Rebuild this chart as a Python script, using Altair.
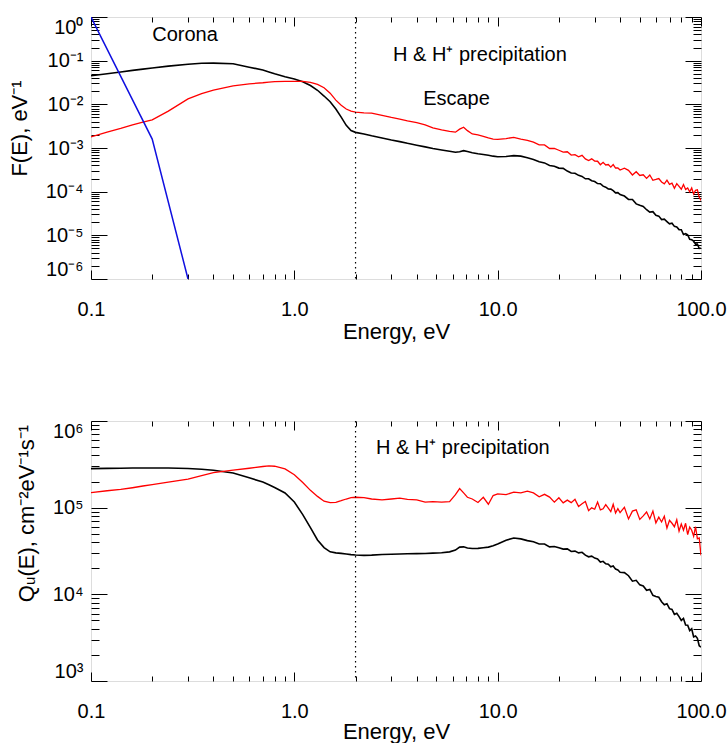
import altair as alt
import pandas as pd

FONT = "Liberation Sans"

# ---------------- energies (eV) ----------------
E_low = [0.1, 0.12, 0.14, 0.16, 0.18, 0.2, 0.24, 0.3, 0.35, 0.4,
         0.5, 0.6, 0.7, 0.75, 0.8, 0.9, 1.0, 1.1, 1.2, 1.3,
         1.4, 1.5, 1.6, 1.7, 1.8, 1.9, 2.0, 2.2, 2.4, 2.7,
         3.0, 3.3, 3.6, 4.0, 4.4, 4.8, 5.3, 5.8, 6.2, 6.5,
         6.8, 7.1, 7.5, 8.0, 8.5, 9.0, 9.5, 10, 11, 12,
         13, 14]
E_tail = [15, 16, 17, 18, 19, 20, 21, 22, 23, 24,
          25, 26, 27, 28, 29, 30, 31, 32, 33, 34,
          35, 36, 37, 38, 39, 40, 42, 44, 46, 48,
          50, 52, 54, 56, 58, 60, 62, 64, 66, 68,
          70, 72, 74, 76, 78, 80, 82, 84, 86, 88,
          90, 92, 94, 96, 98, 100]

# ---------------- top panel: log10 F(E) [eV^-1] ----------------
top_black_low = [-1.347, -1.301, -1.260, -1.222, -1.194, -1.168, -1.125, -1.081, -1.060, -1.056,
                 -1.071, -1.149, -1.215, -1.257, -1.301, -1.367, -1.420, -1.481, -1.569, -1.678,
                 -1.810, -1.939, -2.108, -2.292, -2.481, -2.602, -2.642, -2.678, -2.721, -2.770,
                 -2.818, -2.854, -2.893, -2.935, -2.975, -3.013, -3.046, -3.076, -3.097, -3.086,
                 -3.060, -3.081, -3.108, -3.131, -3.149, -3.167, -3.187, -3.200, -3.194, -3.174,
                 -3.187, -3.222]
top_black_tail = [-3.262, -3.315, -3.341, -3.402, -3.417, -3.460, -3.467, -3.528, -3.571, -3.580,
                  -3.626, -3.651, -3.705, -3.705, -3.751, -3.767, -3.814, -3.817, -3.874, -3.896,
                  -3.938, -3.942, -3.976, -4.028, -4.023, -4.067, -4.100, -4.176, -4.180, -4.280,
                  -4.311, -4.338, -4.413, -4.467, -4.459, -4.541, -4.560, -4.639, -4.628, -4.685,
                  -4.738, -4.722, -4.795, -4.809, -4.869, -4.872, -4.982, -4.963, -4.989, -5.090,
                  -5.101, -5.130, -5.202, -5.199, -5.301, -5.295]
top_red_low = [-2.745, -2.638, -2.553, -2.469, -2.409, -2.357, -2.155, -1.876, -1.757, -1.672,
               -1.577, -1.530, -1.506, -1.492, -1.481, -1.475, -1.472, -1.475, -1.495, -1.545,
               -1.620, -1.745, -1.903, -2.022, -2.108, -2.155, -2.180, -2.194, -2.201, -2.252,
               -2.301, -2.337, -2.377, -2.420, -2.469, -2.538, -2.585, -2.620, -2.638, -2.569,
               -2.523, -2.602, -2.678, -2.699, -2.733, -2.770, -2.796, -2.801, -2.783, -2.757,
               -2.796, -2.824]
top_red_tail = [-2.865, -2.929, -2.929, -3.012, -3.010, -3.052, -3.094, -3.086, -3.162, -3.151,
                -3.203, -3.167, -3.249, -3.287, -3.248, -3.299, -3.303, -3.383, -3.328, -3.389,
                -3.378, -3.439, -3.381, -3.458, -3.458, -3.504, -3.463, -3.511, -3.619, -3.544,
                -3.630, -3.613, -3.696, -3.618, -3.739, -3.720, -3.700, -3.779, -3.819, -3.737,
                -3.834, -3.806, -3.923, -3.815, -3.880, -3.945, -3.836, -3.950, -3.914, -4.003,
                -3.917, -4.056, -3.968, -3.956, -4.130, -4.200]
corona_E = [0.1, 0.2, 0.3]
corona_F = [1.0, 1.6e-3, 1.0e-6]

# ---------------- bottom panel: log10 Q_u(E) [cm^-2 eV^-1 s^-1] ----------------
bot_black_low = [5.451, 5.453, 5.455, 5.457, 5.458, 5.458, 5.457, 5.452, 5.443, 5.431,
                 5.400, 5.345, 5.295, 5.265, 5.232, 5.170, 5.065, 4.920, 4.770, 4.627,
                 4.540, 4.490, 4.478, 4.473, 4.465, 4.458, 4.454, 4.450, 4.452, 4.460,
                 4.462, 4.465, 4.468, 4.470, 4.472, 4.476, 4.480, 4.490, 4.510, 4.545,
                 4.548, 4.535, 4.528, 4.530, 4.538, 4.545, 4.560, 4.580, 4.625, 4.650,
                 4.640, 4.620]
bot_black_tail = [4.606, 4.580, 4.581, 4.548, 4.552, 4.537, 4.522, 4.525, 4.494, 4.499,
                  4.478, 4.485, 4.452, 4.433, 4.440, 4.418, 4.409, 4.372, 4.381, 4.352,
                  4.347, 4.318, 4.328, 4.291, 4.281, 4.255, 4.251, 4.215, 4.152, 4.162,
                  4.109, 4.097, 4.046, 4.056, 3.988, 3.976, 3.966, 3.915, 3.879, 3.892,
                  3.835, 3.825, 3.768, 3.782, 3.743, 3.699, 3.722, 3.647, 3.644, 3.581,
                  3.602, 3.508, 3.518, 3.492, 3.407, 3.390]
bot_red_low = [5.174, 5.195, 5.210, 5.230, 5.250, 5.266, 5.295, 5.330, 5.370, 5.405,
               5.433, 5.455, 5.475, 5.482, 5.478, 5.448, 5.380, 5.290, 5.200, 5.130,
               5.075, 5.058, 5.062, 5.080, 5.100, 5.115, 5.120, 5.115, 5.100, 5.090,
               5.100, 5.110, 5.095, 5.090, 5.065, 5.070, 5.065, 5.070, 5.150, 5.220,
               5.170, 5.120, 5.100, 5.060, 5.120, 5.040, 5.140, 5.160, 5.150, 5.180,
               5.170, 5.190]
bot_red_tail = [5.170, 5.126, 5.154, 5.122, 5.064, 5.114, 5.056, 5.087, 5.058, 5.096,
                5.014, 5.045, 5.071, 4.966, 4.998, 4.982, 5.064, 4.974, 4.987, 5.036,
                4.995, 4.954, 5.039, 4.939, 4.988, 4.942, 5.005, 4.870, 4.960, 4.975,
                4.865, 4.905, 4.950, 4.870, 4.960, 4.825, 4.890, 4.835, 4.900, 4.765,
                4.855, 4.820, 4.780, 4.860, 4.730, 4.810, 4.740, 4.820, 4.690, 4.775,
                4.740, 4.670, 4.780, 4.640, 4.650, 4.450]

# ---------------- annotations ----------------
top_text = ["Corona", "H & H\u207a precipitation", "Escape"]
top_text_E = [0.2, 3.06, 4.3]
top_text_F = [0.387, 0.133, 0.0132]
bot_text = ["H & H\u207a precipitation"]
bot_text_E = [2.52]
bot_text_Q = [4.84e5]
divider_E = [2.0]

# ---------------- ticks ----------------
X_TICKS = [0.1, 1.0, 10.0, 100.0]
X_TICK_LABELS = ["0.1", "1.0", "10.0", "100.0"]
TOP_Y_TICKS = [1e-6, 1e-5, 1e-4, 1e-3, 1e-2, 1e-1, 1e0]
TOP_Y_LABELS = ["10\u207b\u2076", "10\u207b\u2075", "10\u207b\u2074", "10\u207b\u00b3",
                "10\u207b\u00b2", "10\u207b\u00b9", "10\u2070"]
BOT_Y_TICKS = [1e3, 1e4, 1e5, 1e6]
BOT_Y_LABELS = ["10\u00b3", "10\u2074", "10\u2075", "10\u2076"]

for a, b in [(E_low, top_black_low), (E_low, top_red_low), (E_low, bot_black_low), (E_low, bot_red_low),
             (E_tail, top_black_tail), (E_tail, top_red_tail), (E_tail, bot_black_tail), (E_tail, bot_red_tail)]:
    assert len(a) == len(b), (len(a), len(b))


def minor_ticks(decades):
    return [m * d for d in decades[:-1] for m in range(2, 10)]


def label_expr(ticks, labels):
    expr = "''"
    for v, lab in zip(ticks, labels):
        expr = f"abs(log(datum.value / {v!r})) < 0.01 ? '{lab}' : " + expr
    return expr


def series_df(log_low, log_tail, name):
    return pd.DataFrame({"E": E_low + E_tail,
                         "V": [10 ** v for v in log_low + log_tail],
                         "s": name})


X_SCALE = alt.Scale(type="log", domain=[0.1, 100], nice=False)

XMAJ, XMIN = 9, 5
YMAJ, YMIN = 16, 8
LABEL_SIZE = 20
TITLE_SIZE = 22


def common_axis(**kw):
    base = dict(grid=False, domain=False, tickColor="black", tickWidth=1,
                labelFont=FONT, labelFontSize=LABEL_SIZE, labelColor="black",
                titleFont=FONT, titleFontSize=TITLE_SIZE, titleFontWeight="normal", titleColor="black")
    base.update(kw)
    return alt.Axis(**base)


def panel(black, red, y_ticks, y_labels, y_title, y_title_y, x_title_pad, texts, tE, tV, blue=None):
    y_scale = alt.Scale(type="log", domain=[y_ticks[0], y_ticks[-1]], nice=False)
    y_minor = minor_ticks(y_ticks)
    x_minor = minor_ticks(X_TICKS)

    ax_x_bot = common_axis(orient="bottom", values=X_TICKS, labelExpr=label_expr(X_TICKS, X_TICK_LABELS),
                           tickSize=XMAJ, offset=-XMAJ, labelFlush=False, labelPadding=20,
                           title="Energy, eV", titlePadding=x_title_pad)
    ax_x_bot_min = common_axis(orient="bottom", values=x_minor, labels=False, tickSize=XMIN, offset=-XMIN,
                               title=None)
    ax_x_top = common_axis(orient="top", values=X_TICKS, labels=False, tickSize=XMAJ, offset=-XMAJ, title=None)
    ax_x_top_min = common_axis(orient="top", values=x_minor, labels=False, tickSize=XMIN, offset=-XMIN,
                               title=None)
    ax_y_left = common_axis(orient="left", values=y_ticks, labelExpr=label_expr(y_ticks, y_labels),
                            tickSize=YMAJ, offset=-YMAJ, labelFlush=True, labelPadding=8,
                            title=y_title, titlePadding=14, titleY=y_title_y)
    ax_y_left_min = common_axis(orient="left", values=y_minor, labels=False, tickSize=YMIN, offset=-YMIN,
                                title=None)
    ax_y_right = common_axis(orient="right", values=y_ticks, labels=False, tickSize=YMAJ, offset=-YMAJ,
                             title=None)
    ax_y_right_min = common_axis(orient="right", values=y_minor, labels=False, tickSize=YMIN, offset=-YMIN,
                                 title=None)

    layers = []
    layers.append(alt.Chart(black).mark_line(color="black", strokeWidth=1.6, clip=True).encode(
        x=alt.X("E:Q", scale=X_SCALE, axis=ax_x_bot),
        y=alt.Y("V:Q", scale=y_scale, axis=ax_y_left)))
    layers.append(alt.Chart(red).mark_line(color="#ff0000", strokeWidth=1.3, clip=True).encode(
        x=alt.X("E:Q", scale=X_SCALE, axis=ax_x_bot_min),
        y=alt.Y("V:Q", scale=y_scale, axis=ax_y_left_min)))
    if blue is not None:
        layers.append(alt.Chart(blue).mark_line(color="#1010e0", strokeWidth=1.5, clip=True).encode(
            x=alt.X("E:Q", scale=X_SCALE, axis=None),
            y=alt.Y("V:Q", scale=y_scale, axis=None)))
    layers.append(alt.Chart(pd.DataFrame({"E": divider_E})).mark_rule(
        color="black", strokeWidth=1.2, strokeDash=[1.5, 3.5]).encode(
        x=alt.X("E:Q", scale=X_SCALE, axis=ax_x_top)))
    tdf = pd.DataFrame({"E": tE, "V": tV, "t": texts})
    layers.append(alt.Chart(tdf).mark_text(align="left", baseline="middle", font=FONT, fontSize=20,
                                           color="black").encode(
        x=alt.X("E:Q", scale=X_SCALE, axis=ax_x_top_min),
        y=alt.Y("V:Q", scale=y_scale, axis=ax_y_right),
        text="t:N"))
    layers.append(alt.Chart(tdf).mark_point(opacity=0).encode(
        x=alt.X("E:Q", scale=X_SCALE, axis=None),
        y=alt.Y("V:Q", scale=y_scale, axis=ax_y_right_min)))
    return alt.layer(*layers).resolve_axis(x="independent", y="independent")


top = panel(series_df(top_black_low, top_black_tail, "black"),
            series_df(top_red_low, top_red_tail, "red"),
            TOP_Y_TICKS, TOP_Y_LABELS, "F(E), eV\u207b\u00b9", 111, 2,
            top_text, top_text_E, top_text_F,
            blue=pd.DataFrame({"E": corona_E, "V": corona_F})).properties(width=610, height=262)

bottom = panel(series_df(bot_black_low, bot_black_tail, "black"),
               series_df(bot_red_low, bot_red_tail, "red"),
               BOT_Y_TICKS, BOT_Y_LABELS, "Q\u1d64(E),  cm\u207b\u00b2eV\u207b\u00b9s\u207b\u00b9", 92, 0,
               bot_text, bot_text_E, bot_text_Q).properties(width=610, height=260)

chart = alt.vconcat(top, bottom, spacing=76).properties(
    padding={"left": 7, "top": 15, "right": 0, "bottom": 0}
).configure_view(stroke="black", strokeWidth=1.5).configure(background="white")

chart.save("out.html", embed_options={"renderer": "svg", "actions": False})
